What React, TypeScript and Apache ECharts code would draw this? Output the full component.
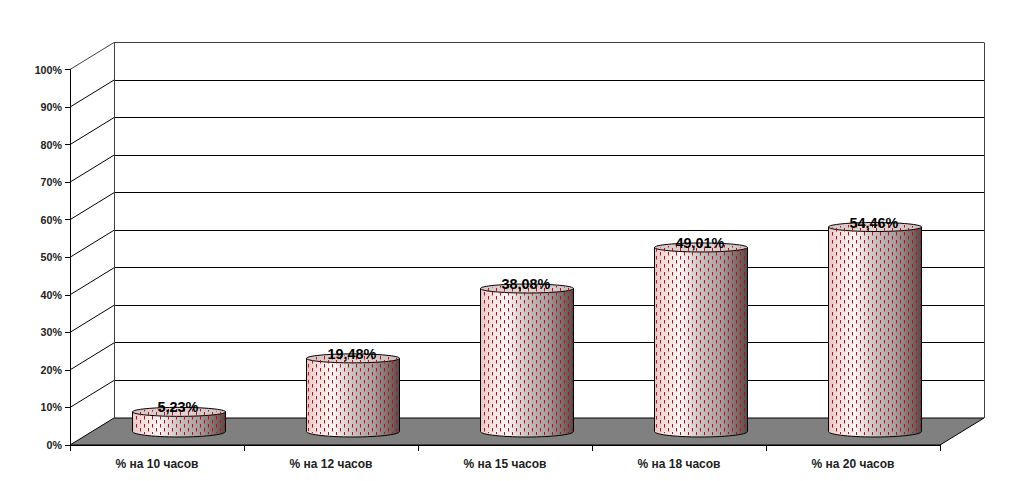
import React, { useEffect, useRef } from "react";
import * as echarts from "echarts";

const categories = ["% на 10 часов", "% на 12 часов", "% на 15 часов", "% на 18 часов", "% на 20 часов"];
const shares = [5.23, 19.48, 38.08, 49.01, 54.46];
const wallTicks = [0, 10, 20, 30, 40, 50, 60, 70, 80, 90, 100];

const DEPTH_X = 44;
const DEPTH_Y = -27;
const RADIUS = 46.5;
const RY_TOP = 4.5;
const RY_BOTTOM = 5.5;
const FONT = '"Liberation Sans", Arial, sans-serif';
const snap = (v: number) => Math.floor(v) + 0.5;

function renderWall(params: any, api: any) {
  const cs = params.coordSys;
  const v = api.value(1);
  const y = api.coord([0, v])[1];
  const left = cs.x;
  const right = cs.x + cs.width;
  const children: any[] = [];
  const stroke = v === 100 ? "#404040" : "#000";
  if (v === 0) {
    children.push({
      type: "polygon",
      shape: {
        points: [
          [left, y],
          [left + DEPTH_X, y + DEPTH_Y],
          [right + DEPTH_X, y + DEPTH_Y],
          [right, y],
        ],
      },
      style: { fill: "#808080", stroke: "#000", lineWidth: 1 },
    });
  } else {
    children.push({
      type: "line",
      shape: { x1: left, y1: y, x2: left + DEPTH_X, y2: y + DEPTH_Y },
      style: { stroke, lineWidth: 1, fill: "none" },
    });
    children.push({
      type: "line",
      shape: { x1: left + DEPTH_X, y1: snap(y + DEPTH_Y), x2: right + DEPTH_X, y2: snap(y + DEPTH_Y) },
      style: { stroke, lineWidth: 1, fill: "none" },
    });
  }
  if (v === 100) {
    const y0 = api.coord([0, 0])[1];
    [left + DEPTH_X, right + DEPTH_X].forEach((x) => {
      children.push({
        type: "line",
        shape: { x1: snap(x), y1: y + DEPTH_Y, x2: snap(x), y2: y0 + DEPTH_Y },
        style: { stroke: "#404040", lineWidth: 1, fill: "none" },
      });
    });
  }
  return { type: "group", children };
}

function renderCylinder(_params: any, api: any) {
  const i = api.value(0);
  const v = api.value(1);
  const [x, yFront] = api.coord([i, v]);
  const y0Front = api.coord([i, 0])[1];
  const cx = x + DEPTH_X / 2;
  const top = yFront + DEPTH_Y / 2;
  const bottom = y0Front + DEPTH_Y / 2;

  const sidePts: number[][] = [];
  sidePts.push([cx - RADIUS, top]);
  for (let a = 180; a >= 0; a -= 6) {
    const r = (a * Math.PI) / 180;
    sidePts.push([cx + RADIUS * Math.cos(r), bottom + RY_BOTTOM * Math.sin(r)]);
  }
  sidePts.push([cx + RADIUS, top]);

  const sideFill = new echarts.graphic.LinearGradient(0, 0, 1, 0, [
    { offset: 0, color: "#eac4c4" },
    { offset: 0.1, color: "#f6dcdc" },
    { offset: 0.28, color: "#fff4f4" },
    { offset: 0.5, color: "#cbc0c0" },
    { offset: 0.72, color: "#a89c9c" },
    { offset: 0.92, color: "#75605f" },
    { offset: 1, color: "#5a4848" },
  ]);
  const topFill = new echarts.graphic.LinearGradient(0, 0, 1, 0, [
    { offset: 0, color: "#d8c4c4" },
    { offset: 0.5, color: "#e4d6d6" },
    { offset: 1, color: "#cdbcbc" },
  ]);

  const children: any[] = [
    {
      type: "polygon",
      shape: { points: sidePts },
      style: { fill: sideFill, stroke: "#000", lineWidth: 1 },
    },
    {
      type: "ellipse",
      shape: { cx, cy: top, rx: RADIUS, ry: RY_TOP },
      style: { fill: topFill, stroke: "#000", lineWidth: 1 },
    },
  ];

  const step = 4;
  const period = 8;
  const startCol = Math.ceil((cx - RADIUS + 1.5) / step);
  const endCol = Math.floor((cx + RADIUS - 1.5) / step);
  for (let c = startCol; c <= endCol; c++) {
    const px = c * step;
    const t = Math.sqrt(Math.max(0, 1 - ((px - cx) / RADIUS) ** 2));
    const y1 = Math.ceil(top - RY_TOP * t) + 1;
    const y2 = Math.floor(bottom + RY_BOTTOM * t) - 1;
    const stagger = c % 2 === 0 ? 0 : period / 2;
    children.push({
      type: "line",
      shape: { x1: px + 0.5, y1, x2: px + 0.5, y2 },
      style: {
        stroke: "#a81818",
        lineWidth: 1,
        fill: "none",
        lineDash: [3.5, period - 3.5],
        lineDashOffset: ((y1 + stagger) % period + period) % period,
      },
    });
  }

  children.push({
    type: "text",
    style: {
      x: cx - 1,
      y: top - 4.5,
      text: v.toFixed(2).replace(".", ",") + "%",
      fill: "#000",
      font: `bold 14.4px ${FONT}`,
      align: "center",
      verticalAlign: "middle",
    },
  });
  return { type: "group", children };
}

export default function App() {
  const ref = useRef<HTMLDivElement>(null);
  useEffect(() => {
    const chart = echarts.init(ref.current!, null, { renderer: "svg" });
    chart.setOption({
      animation: false,
      backgroundColor: "#fff",
      grid: { left: 70, right: 74, top: 69.5, bottom: 36, containLabel: false },
      xAxis: {
        type: "category",
        data: categories,
        z: 5,
        axisLine: { lineStyle: { color: "#000", width: 1 } },
        axisTick: { show: true, length: 6, lineStyle: { color: "#000" } },
        axisLabel: { color: "#222", fontFamily: FONT, fontWeight: "bold", fontSize: 12, margin: 13 },
        splitLine: { show: false },
      },
      yAxis: {
        type: "value",
        min: 0,
        max: 100,
        interval: 10,
        z: 5,
        axisLine: { show: true, lineStyle: { color: "#000", width: 1 } },
        axisTick: { show: true, length: 5, lineStyle: { color: "#000" } },
        axisLabel: { color: "#222", fontFamily: FONT, fontWeight: "bold", fontSize: 10.7, margin: 8, formatter: "{value}%" },
        splitLine: { show: false },
      },
      series: [
        { type: "custom", name: "walls", z: 1, silent: true, renderItem: renderWall, data: wallTicks.map((v) => [0, v]) },
        { type: "custom", name: "shares", z: 3, silent: true, renderItem: renderCylinder, data: shares.map((v, i) => [i, v]) },
      ],
    });
    return () => chart.dispose();
  }, []);
  return <div ref={ref} style={{ position: "fixed", left: 0, top: 0, width: 1014, height: 481 }} />;
}
